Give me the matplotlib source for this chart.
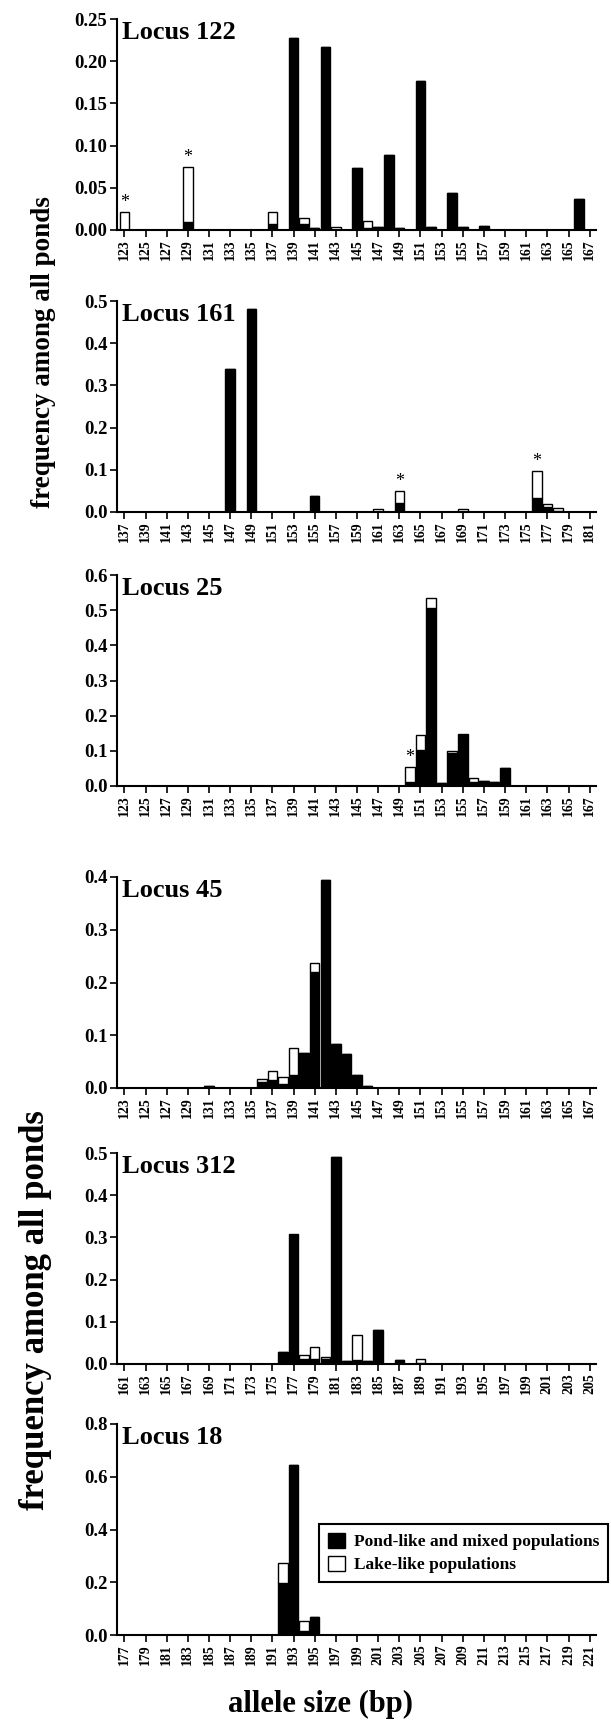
import matplotlib
matplotlib.use('Agg')
import matplotlib.pyplot as plt
from matplotlib.patches import Patch
import numpy as np

plt.rcParams['font.family'] = ['Liberation Serif', 'DejaVu Serif']
plt.rcParams['font.weight'] = 'bold'

# allele sizes (bp), pond-like+mixed frequency (black), lake-like frequency (white, stacked)
loc122_alleles = [123, 129, 137, 139, 140, 141, 142, 143, 145, 146, 147, 148, 149, 151, 152, 154, 155, 157, 166]
loc122_pond = [0, 0.009, 0.007, 0.227, 0.007, 0.002, 0.217, 0, 0.073, 0.002, 0.003, 0.089, 0.002, 0.176, 0.003, 0.044, 0.003, 0.005, 0.037]
loc122_lake = [0.021, 0.066, 0.014, 0, 0.007, 0, 0, 0.003, 0, 0.009, 0, 0, 0, 0, 0, 0, 0, 0, 0]
loc122_star = [123, 129]

loc161_alleles = [147, 149, 155, 161, 163, 169, 176, 177, 178]
loc161_pond = [0.340, 0.480, 0.038, 0, 0.022, 0, 0.032, 0.012, 0.002]
loc161_lake = [0, 0, 0, 0.008, 0.028, 0.008, 0.066, 0.008, 0.007]
loc161_star = [163, 176]

loc25_alleles = [150, 151, 152, 153, 154, 155, 156, 157, 158, 159]
loc25_pond = [0.012, 0.103, 0.506, 0.009, 0.093, 0.145, 0.010, 0.013, 0.012, 0.052]
loc25_lake = [0.042, 0.041, 0.028, 0, 0.007, 0.002, 0.012, 0, 0, 0]
loc25_star = [150]

loc45_alleles = [131, 136, 137, 138, 139, 140, 141, 142, 143, 144, 145, 146]
loc45_pond = [0.004, 0.011, 0.015, 0.008, 0.024, 0.066, 0.219, 0.394, 0.084, 0.064, 0.024, 0.004]
loc45_lake = [0, 0.007, 0.018, 0.012, 0.052, 0, 0.018, 0, 0, 0, 0, 0]
loc45_star = []

loc312_alleles = [176, 177, 178, 179, 180, 181, 182, 183, 184, 185, 187, 189]
loc312_pond = [0.028, 0.305, 0.011, 0.011, 0.013, 0.490, 0.006, 0.009, 0.007, 0.081, 0.010, 0.003]
loc312_lake = [0, 0.003, 0.011, 0.029, 0.004, 0, 0, 0.059, 0, 0, 0, 0.010]
loc312_star = []

loc18_alleles = [192, 193, 194, 195]
loc18_pond = [0.198, 0.645, 0.016, 0.067]
loc18_lake = [0.074, 0, 0.036, 0]
loc18_star = []

panels = [
    ('Locus 122', loc122_alleles, loc122_pond, loc122_lake, loc122_star, 123, 0.25, 0.05, '%.2f'),
    ('Locus 161', loc161_alleles, loc161_pond, loc161_lake, loc161_star, 137, 0.5, 0.1, '%.1f'),
    ('Locus 25', loc25_alleles, loc25_pond, loc25_lake, loc25_star, 123, 0.6, 0.1, '%.1f'),
    ('Locus 45', loc45_alleles, loc45_pond, loc45_lake, loc45_star, 123, 0.4, 0.1, '%.1f'),
    ('Locus 312', loc312_alleles, loc312_pond, loc312_lake, loc312_star, 161, 0.5, 0.1, '%.1f'),
    ('Locus 18', loc18_alleles, loc18_pond, loc18_lake, loc18_star, 177, 0.8, 0.2, '%.1f'),
]

W, H = 611, 1723
fig = plt.figure(figsize=(W / 100, H / 100), dpi=100)

zero_px = [230, 512, 786, 1088, 1364, 1635]
ax_h = 211
left_px, right_px = 117, 596

bar_w = 0.9
for (title, alleles, pond, lake, stars, first, ytop, ystep, fmt), z in zip(panels, zero_px):
    ax = fig.add_axes([left_px / W, 1 - z / H, (right_px - left_px) / W, ax_h / H])
    ax.bar(alleles, pond, width=bar_w, color='black', edgecolor='black', linewidth=1.0)
    ax.bar(alleles, lake, width=bar_w, bottom=pond, color='white', edgecolor='black', linewidth=1.0)
    tot = dict(zip(alleles, np.array(pond) + np.array(lake)))
    for s in stars:
        ax.text(s, tot[s] + ytop * 0.005, '*', ha='center', va='bottom', fontsize=13, fontweight='normal')
    ticks = np.arange(first, first + 45, 2)
    ax.set_xticks(ticks)
    ax.set_xticklabels([str(t) for t in ticks], rotation=90, fontsize=10, fontweight='bold')
    ax.set_xlim(first - 0.7, first + 44.6)
    ax.set_ylim(0, ytop)
    yt = np.arange(0, ytop + ystep / 2, ystep)
    ax.set_yticks(yt)
    ax.set_yticklabels([fmt % v for v in yt], fontsize=13.5, fontweight='bold')
    for sp in ['top', 'right']:
        ax.spines[sp].set_visible(False)
    for sp in ['left', 'bottom']:
        ax.spines[sp].set_linewidth(1.5)
    ax.tick_params(axis='both', direction='out', length=5, width=1.2, pad=2)
    ax.text(0.01, 0.99, title, transform=ax.transAxes, ha='left', va='top',
            fontsize=19, fontweight='bold')

fig.text(44 / W, 1 - 352 / H, 'frequency among all ponds', rotation=90, ha='center', va='center',
         fontsize=19.5, fontweight='bold')
fig.text(36 / W, 1 - 1310 / H, 'frequency among all ponds', rotation=90, ha='center', va='center',
         fontsize=25, fontweight='bold')
fig.text(321 / W, 1 - 1704 / H, 'allele size (bp)', ha='center', va='center',
         fontsize=22, fontweight='bold')

handles = [Patch(facecolor='black', edgecolor='black', label='Pond-like and mixed populations'),
           Patch(facecolor='white', edgecolor='black', label='Lake-like populations')]
leg = fig.legend(handles=handles, loc='upper left', bbox_to_anchor=(319 / W, 1 - 1524 / H),
                 borderaxespad=0, fancybox=False, framealpha=1, edgecolor='black',
                 prop={'size': 12.5, 'weight': 'bold'}, handlelength=1.0, handleheight=1.0,
                 handletextpad=0.5, labelspacing=0.3, borderpad=0.5)
leg.get_frame().set_linewidth(1.5)

fig.savefig('out.png', dpi=100)
